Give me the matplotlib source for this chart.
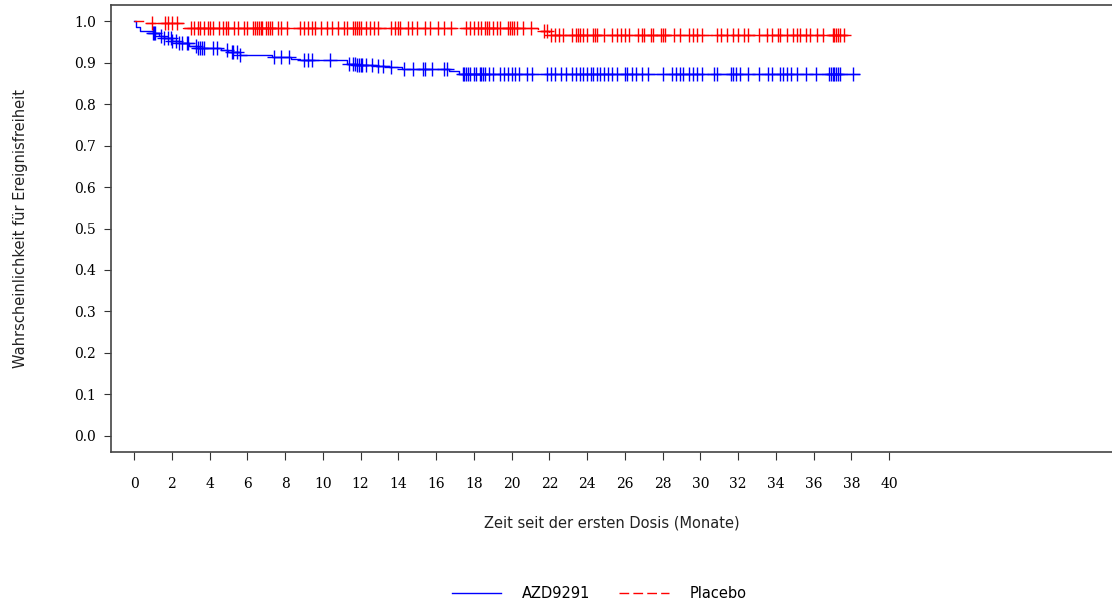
import matplotlib
matplotlib.use("Agg")
import matplotlib.pyplot as plt
import numpy as np

# ---- data ----
azd_times = [0.0, 0.1, 0.3, 1.0, 1.3, 1.6, 2.0, 2.4, 2.9, 3.4, 4.6, 5.0, 5.6, 7.3, 8.3, 8.8,
             11.3, 11.8, 12.8, 13.5, 14.2, 16.7, 17.2]
azd_surv = [1.0, 0.985, 0.975, 0.970, 0.965, 0.958, 0.952, 0.946, 0.940, 0.935, 0.929, 0.925,
            0.918, 0.913, 0.909, 0.905, 0.897, 0.894, 0.891, 0.888, 0.884, 0.880, 0.873]
azd_end = 38.4
azd_censor = [1.0, 1.05, 1.1, 1.45, 1.6, 1.8, 1.96, 2.0, 2.2, 2.4, 2.55, 2.8, 2.85, 3.3, 3.4, 3.5,
              3.6, 3.7, 4.2, 4.4, 4.9, 5.2, 5.25, 5.45, 5.6, 7.4, 7.8, 8.2, 9.0, 9.2, 9.4, 10.4,
              11.4, 11.6, 11.7, 11.8, 11.9, 12.0, 12.1, 12.3, 12.6, 12.9, 13.2, 13.6, 14.3, 14.8,
              15.3, 15.4, 15.8, 16.4, 16.6, 17.4, 17.5, 17.6, 17.7, 17.8, 18.0, 18.1, 18.3,
              18.4, 18.5, 18.6, 18.8, 19.0, 19.4, 19.6, 19.8, 20.0, 20.2, 20.4, 20.8, 21.1,
              21.9, 22.1, 22.3, 22.6, 22.9, 23.2, 23.4, 23.6, 23.8, 24.0, 24.2, 24.3, 24.5,
              24.7, 24.9, 25.1, 25.3, 25.6, 26.0, 26.1, 26.4, 26.6, 26.9, 27.2, 28.0, 28.5,
              28.7, 28.9, 29.1, 29.4, 29.6, 29.8, 30.1, 30.7, 30.9, 31.6, 31.7, 31.9, 32.1,
              32.5, 33.1, 33.6, 33.8, 34.2, 34.4, 34.6, 34.8, 35.1, 35.6, 36.1, 36.8, 36.9,
              37.0, 37.1, 37.2, 37.3, 37.4, 38.1]

pla_times = [0.0, 0.6, 2.6, 21.4, 22.0]
pla_surv = [1.0, 0.995, 0.983, 0.976, 0.967]
pla_end = 37.8
pla_censor = [0.95, 1.65, 1.8, 2.0, 2.3, 3.0, 3.2, 3.4, 3.5, 3.7, 3.9, 4.0, 4.2, 4.5, 4.7, 4.85,
              5.0, 5.3, 5.5, 5.8, 6.0, 6.3, 6.4, 6.5, 6.6, 6.7, 6.8, 7.0, 7.1, 7.2, 7.3, 7.6,
              7.8, 8.1, 8.8, 9.0, 9.2, 9.4, 9.6, 9.9, 10.2, 10.5, 10.8, 11.1, 11.3, 11.6, 11.7,
              11.8, 11.9, 12.0, 12.3, 12.5, 12.7, 12.9, 13.6, 13.8, 14.0, 14.1, 14.5, 14.7,
              15.0, 15.4, 15.7, 16.1, 16.4, 16.8, 17.6, 17.8, 18.0, 18.2, 18.4, 18.6, 18.7,
              18.8, 19.0, 19.2, 19.4, 19.8, 19.9, 20.0, 20.1, 20.3, 20.6, 21.0, 21.7, 21.9,
              22.1, 22.3, 22.5, 22.7, 23.2, 23.4, 23.5, 23.6, 23.8, 24.0, 24.3, 24.4, 24.5,
              24.9, 25.3, 25.6, 25.8, 26.0, 26.2, 26.7, 26.9, 27.0, 27.4, 27.5, 27.9, 28.0,
              28.1, 28.6, 28.9, 29.4, 29.6, 29.8, 30.1, 30.9, 31.1, 31.4, 31.7, 32.0, 32.3,
              32.5, 33.1, 33.5, 33.8, 34.1, 34.2, 34.6, 34.9, 35.1, 35.3, 35.6, 35.8, 36.2,
              36.5, 37.0, 37.1, 37.2, 37.3, 37.4, 37.6]

x_ticks = list(range(0, 41, 2))
y_ticks = [0.0, 0.1, 0.2, 0.3, 0.4, 0.5, 0.6, 0.7, 0.8, 0.9, 1.0]
series_names = ["AZD9291", "Placebo"]
x_label = "Zeit seit der ersten Dosis (Monate)"
y_label = "Wahrscheinlichkeit für Ereignisfreiheit"


def surv_at(times, surv, t):
    idx = np.searchsorted(times, t, side="right") - 1
    return np.array(surv)[idx]


fig = plt.figure(figsize=(11.12, 6.06), dpi=100)
ax = fig.add_axes([111 / 1112, 1 - 452 / 606, 1 - 111 / 1112, (452 - 5) / 606])

# blue
bx = azd_times + [azd_end]
by = azd_surv + [azd_surv[-1]]
l1, = ax.step(bx, by, where="post", color="blue", lw=1.0, label=series_names[0])
ax.plot(azd_censor, surv_at(azd_times, azd_surv, azd_censor), ls="none", marker="+",
        color="blue", ms=10, mew=1.0)

# red
rx = pla_times + [pla_end]
ry = pla_surv + [pla_surv[-1]]
l2, = ax.step(rx, ry, where="post", color="red", lw=1.0, ls=(0, (7, 3)), label=series_names[1])
ax.plot(pla_censor, surv_at(pla_times, pla_surv, pla_censor), ls="none", marker="+",
        color="red", ms=10, mew=1.0)

ax.set_xlim(-1.22, 51.8)
ax.set_ylim(-0.0386, 1.0386)
ax.set_xticks(x_ticks)
ax.set_yticks(y_ticks)
ax.set_xticklabels([str(v) for v in x_ticks], family="DejaVu Serif", fontsize=10)
ax.set_yticklabels([f"{v:.1f}" for v in y_ticks], family="DejaVu Serif", fontsize=10)
ax.tick_params(axis="x", direction="out", length=6, pad=12, color="#333333")
ax.tick_params(axis="y", direction="out", length=5, pad=6, color="#333333")
ax.spines["right"].set_visible(False)
for s in ["left", "bottom", "top"]:
    ax.spines[s].set_color("#444444")
    ax.spines[s].set_linewidth(1.2)

ax.set_xlabel(x_label, fontsize=10.5, family="DejaVu Sans", labelpad=18, color="#222222")
ax.set_ylabel(y_label, fontsize=10.5, family="DejaVu Sans", labelpad=33, color="#222222")

fig.legend([l1, l2], series_names, loc="center", bbox_to_anchor=(599 / 1112, 1 - 594 / 606),
           ncol=2, frameon=False, handlelength=3.4, handletextpad=1.4, columnspacing=2.0,
           prop={"family": "DejaVu Sans", "size": 10.5})

fig.savefig("out.png", dpi=100)
